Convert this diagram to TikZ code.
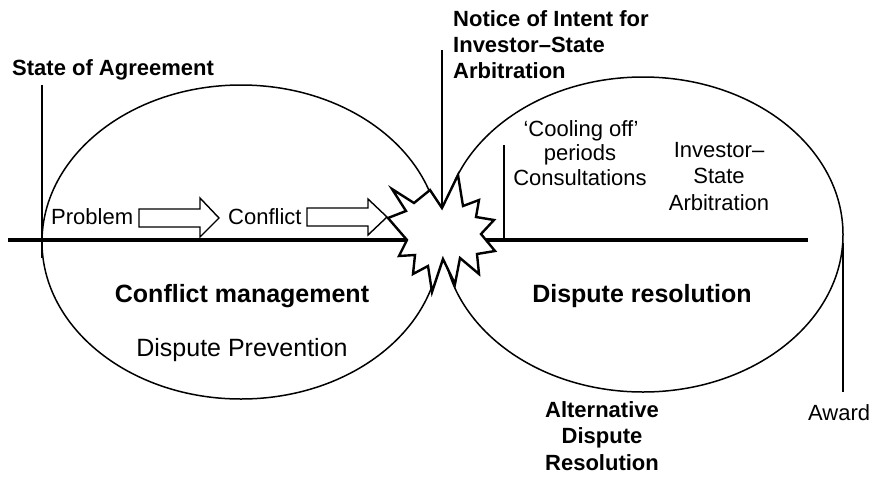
\documentclass[tikz,border=0pt]{standalone}
\usepackage{fontspec}
\setmainfont{Liberation Sans}
\begin{document}
\begin{tikzpicture}[x=1pt,y=-1pt,
  ell/.style={line width=1.5pt},
  thinline/.style={line width=1.3pt},
  thickline/.style={line width=4pt},
  blk/.style={line width=1.4pt, fill=white, line join=miter},
  burst/.style={line width=2.4pt, fill=white, line join=miter, miter limit=20},
  lbl/.style={font=\fontsize{22}{26}\selectfont, inner sep=0pt},
  lblb/.style={font=\fontsize{22}{26}\selectfont\bfseries, inner sep=0pt},
  head/.style={font=\fontsize{25}{30}\selectfont\bfseries, inner sep=0pt},
  headr/.style={font=\fontsize{25}{30}\selectfont, inner sep=0pt}]
\useasboundingbox (0,0) rectangle (872,477);

% ellipses
\draw[ell] (241,242) ellipse [x radius=199pt, y radius=157pt];
\draw[ell] (643,234.5) ellipse [x radius=200pt, y radius=157.5pt];

% main thick line
\coordinate (lineL) at (8,240);
\coordinate (lineR) at (808,240);
\draw[thickline] (lineL) -- (lineR);

% block arrows
\draw[blk] (139,209) -- (200,209) -- (200,198) -- (219,218) -- (200,237) -- (200,227) -- (139,227) -- cycle;
\draw[blk] (307,208) -- (368,208) -- (368,199) -- (387,217) -- (368,235) -- (368,226) -- (307,226) -- cycle;

% burst (star)
\coordinate (burstTop) at (442,208);
\draw[burst] (392,189) -- (414,203) -- (430,190) -- (burstTop) -- (458,175) -- (463,206)
  -- (479,200) -- (476,217) -- (494,220) -- (481,234) -- (495,251) -- (477,254)
  -- (479,274) -- (460,258) -- (455,284) -- (443,259) -- (432,292) -- (428,266)
  -- (413,274) -- (415,255) -- (399,256) -- (407,240) -- (388,218) -- (406,211) -- cycle;

% vertical marker lines
\coordinate (soaTop) at (42,85);
\coordinate (soaBot) at (42,258);
\draw[thinline] (soaTop) -- (soaBot);
\coordinate (noticeTop) at (442,50);
\draw[thinline] (noticeTop) -- (burstTop);
\coordinate (coolTop) at (504,145);
\coordinate (coolBot) at (504,240);
\draw[thinline] (coolTop) -- (coolBot);
\coordinate (awardTop) at (843,243);
\coordinate (awardBot) at (843,392);
\draw[thinline] (awardTop) -- (awardBot);

% labels
\node[lblb, anchor=base west] (soa) at (12,75) {State of Agreement};
\node[lblb, anchor=base west] (not1) at (453,26) {Notice of Intent for};
\node[lblb, anchor=base west] (not2) at (453,52.5) {Investor--State};
\node[lblb, anchor=base west] (not3) at (453,78) {Arbitration};

\node[lbl, anchor=base west] (problem) at (51,224) {Problem};
\node[lbl, anchor=base west] (conflict) at (228,224) {Conflict};

\node[lbl, anchor=base] (cool1) at (581,136) {‘Cooling off’};
\node[lbl, anchor=base] (cool2) at (580,160.5) {periods};
\node[lbl, anchor=base] (cool3) at (580,185) {Consultations};

\node[lbl, anchor=base] (isa1) at (719,157) {Investor--};
\node[lbl, anchor=base] (isa2) at (719,183.5) {State};
\node[lbl, anchor=base] (isa3) at (719,210) {Arbitration};

\node[head, anchor=base] (cm) at (242,302) {Conflict management};
\node[headr, anchor=base] (dp) at (242,356) {Dispute Prevention};
\node[head, anchor=base] (dr) at (642,302) {Dispute resolution};

\node[lblb, anchor=base] (adr1) at (602,417) {Alternative};
\node[lblb, anchor=base] (adr2) at (602,443.5) {Dispute};
\node[lblb, anchor=base] (adr3) at (602,470) {Resolution};

\node[lbl, anchor=base west] (award) at (808,420) {Award};
\end{tikzpicture}
\end{document}
